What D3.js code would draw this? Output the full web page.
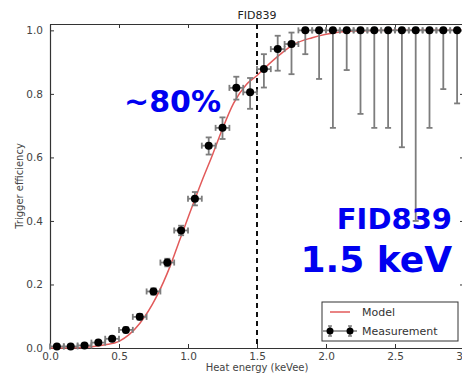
<!DOCTYPE html>
<html>
<head>
<meta charset="utf-8">
<script src="https://cdn.jsdelivr.net/npm/d3@7"></script>
<style>
  body { margin: 0; background: #fff; }
  svg { display: block; font-family: "DejaVu Sans", sans-serif; }
</style>
</head>
<body>
<svg id="chart" width="462" height="374"></svg>
<script>
// bin centres (keVee) and measured trigger efficiency
var energy = [0.05, 0.15, 0.25, 0.35, 0.45, 0.55, 0.65, 0.75, 0.85, 0.95,
              1.05, 1.15, 1.25, 1.35, 1.45, 1.55, 1.65, 1.75, 1.85, 1.95,
              2.05, 2.15, 2.25, 2.35, 2.45, 2.55, 2.65, 2.75, 2.85, 2.95];
var eff    = [0.005, 0.005, 0.008, 0.017, 0.029, 0.057, 0.098, 0.178, 0.269, 0.370,
              0.470, 0.637, 0.693, 0.819, 0.805, 0.878, 0.941, 0.957, 1.0, 1.0,
              1.0, 1.0, 1.0, 1.0, 1.0, 1.0, 1.0, 1.0, 1.0, 1.0];
var errLow = [0.003, 0.003, 0.004, 0.005, 0.006, 0.008, 0.009, 0.010, 0.012, 0.015,
              0.021, 0.028, 0.035, 0.037, 0.052, 0.058, 0.068, 0.095, 0.075, 0.153,
              0.307, 0.125, 0.263, 0.307, 0.307, 0.368, 0.600, 0.307, 0.185, 0.230];
var errHigh = [0.003, 0.003, 0.004, 0.005, 0.006, 0.008, 0.009, 0.010, 0.012, 0.015,
               0.021, 0.026, 0.033, 0.035, 0.045, 0.047, 0.042, 0.036, 0, 0,
               0, 0, 0, 0, 0, 0, 0, 0, 0, 0];
var binHalf = 0.05;

// model curve
var modelE   = [0.0, 0.2, 0.3, 0.4, 0.5, 0.65, 0.77, 0.87, 0.94, 1.0, 1.1, 1.18,
                1.25, 1.33, 1.42, 1.5, 1.56, 1.67, 1.76, 1.9, 2.0, 2.2, 2.5, 3.0];
var modelEff = [0.0, 0.001, 0.004, 0.01, 0.021, 0.077, 0.16, 0.257, 0.34, 0.41, 0.525, 0.611,
                0.69, 0.77, 0.828, 0.858, 0.883, 0.925, 0.954, 0.977, 0.988, 0.998, 1.0, 1.0];

var xTicks = [0, 0.5, 1.0, 1.5, 2.0, 2.5, 3.0];
var yTicks = [0, 0.2, 0.4, 0.6, 0.8, 1.0];
var threshold = 1.5;

var svg = d3.select("#chart");

// plot area edges (the right spine sits just past the window edge, as in the original)
var pLeft = 50, pRight = 464, pTop = 24, pBottom = 348;

var x = d3.scaleLinear().domain([0, 3]).range([pLeft, pRight]);
var y = d3.scaleLinear().domain([0, 1.02]).range([pBottom, pTop]);

var axisColor = "#333";
var tickFont  = "10.5px";

// axes - matplotlib style: ticks pointing in on all four sides
var xAxisB = d3.axisBottom(x).tickValues(xTicks).tickFormat(d3.format(".1f")).tickSizeInner(-4).tickSizeOuter(0).tickPadding(5);
var xAxisT = d3.axisTop(x).tickValues(xTicks).tickFormat("").tickSizeInner(-4).tickSizeOuter(0);
var yAxisL = d3.axisLeft(y).tickValues(yTicks).tickFormat(d3.format(".1f")).tickSizeInner(-4).tickSizeOuter(0).tickPadding(7);
var yAxisR = d3.axisRight(y).tickValues(yTicks).tickFormat("").tickSizeInner(-4).tickSizeOuter(0);

function styleAxis(g) {
  g.selectAll("path").attr("stroke", axisColor).attr("stroke-width", 1.2);
  g.selectAll("line").attr("stroke", axisColor).attr("stroke-width", 1);
  g.selectAll("text").attr("fill", "#444").style("font-size", tickFont).style("font-family", "DejaVu Sans, sans-serif");
}

svg.append("g").attr("transform", "translate(0," + pBottom + ")").call(xAxisB).call(styleAxis);
svg.append("g").attr("transform", "translate(0," + pTop + ")").call(xAxisT).call(styleAxis);
svg.append("g").attr("transform", "translate(" + pLeft + ",0)").call(yAxisL).call(styleAxis);
svg.append("g").attr("transform", "translate(" + pRight + ",0)").call(yAxisR).call(styleAxis);

// labels
svg.append("text")
   .attr("x", (pLeft + pRight) / 2).attr("y", 19)
   .attr("text-anchor", "middle")
   .attr("fill", "#222")
   .style("font-size", "11px")
   .text("FID839");

svg.append("text")
   .attr("x", (pLeft + pRight) / 2).attr("y", 371)
   .attr("text-anchor", "middle")
   .attr("fill", "#444")
   .style("font-size", "10px")
   .text("Heat energy (keVee)");

svg.append("text")
   .attr("transform", "translate(23," + ((pTop + pBottom) / 2) + ") rotate(-90)")
   .attr("text-anchor", "middle")
   .attr("fill", "#444")
   .style("font-size", "10px")
   .text("Trigger efficiency");

// model
var modelLine = d3.line()
  .x(function (d, i) { return x(modelE[i]); })
  .y(function (d) { return y(d); })
  .curve(d3.curveMonotoneX);

svg.append("path")
   .attr("d", modelLine(modelEff))
   .attr("fill", "none")
   .attr("stroke", "#e25a5a")
   .attr("stroke-width", 1.5);

// threshold line
svg.append("line")
   .attr("x1", x(threshold)).attr("x2", x(threshold))
   .attr("y1", pTop).attr("y2", pBottom)
   .attr("stroke", "#111")
   .attr("stroke-width", 2)
   .attr("stroke-dasharray", "5,4");

// error bars
var errColor = "#7d7d7d";
var cap = 3;
var bars = svg.append("g").attr("stroke", errColor).attr("stroke-width", 1.8);

energy.forEach(function (e, i) {
  var cx = x(e), cy = y(eff[i]);
  var yLo = y(eff[i] - errLow[i]), yHi = y(eff[i] + errHigh[i]);
  var xLo = x(e - binHalf), xHi = x(e + binHalf);

  bars.append("line").attr("x1", cx).attr("x2", cx).attr("y1", yLo).attr("y2", yHi);
  bars.append("line").attr("x1", cx - cap).attr("x2", cx + cap).attr("y1", yLo).attr("y2", yLo);
  bars.append("line").attr("x1", cx - cap).attr("x2", cx + cap).attr("y1", yHi).attr("y2", yHi);

  bars.append("line").attr("x1", xLo).attr("x2", xHi).attr("y1", cy).attr("y2", cy);
  bars.append("line").attr("x1", xLo).attr("x2", xLo).attr("y1", cy - cap).attr("y2", cy + cap);
  bars.append("line").attr("x1", xHi).attr("x2", xHi).attr("y1", cy - cap).attr("y2", cy + cap);
});

svg.append("g").selectAll("circle")
   .data(eff)
   .enter().append("circle")
   .attr("cx", function (d, i) { return x(energy[i]); })
   .attr("cy", function (d) { return y(d); })
   .attr("r", 4)
   .attr("fill", "#000");

// annotations
svg.append("text")
   .attr("x", 124).attr("y", 112)
   .attr("fill", "#0000f0")
   .style("font-size", "30px").style("font-weight", "bold")
   .text("~80%");

svg.append("text")
   .attr("x", 452).attr("y", 229)
   .attr("text-anchor", "end")
   .attr("fill", "#0000f0")
   .style("font-size", "29px").style("font-weight", "bold")
   .text("FID839");

svg.append("text")
   .attr("x", 452).attr("y", 272)
   .attr("text-anchor", "end")
   .attr("fill", "#0000f0")
   .style("font-size", "36px").style("font-weight", "bold")
   .text("1.5 keV");

// legend
var legend = svg.append("g").attr("transform", "translate(322,302)");

legend.append("rect")
   .attr("width", 136).attr("height", 39)
   .attr("fill", "#fff")
   .attr("stroke", "#333").attr("stroke-width", 1);

legend.append("line")
   .attr("x1", 8).attr("x2", 28).attr("y1", 10).attr("y2", 10)
   .attr("stroke", "#e25a5a").attr("stroke-width", 1.5);

legend.append("text")
   .attr("x", 40).attr("y", 14)
   .attr("fill", "#333")
   .style("font-size", "11px")
   .text("Model");

var lg = legend.append("g").attr("stroke", errColor).attr("stroke-width", 1.5);
lg.append("line").attr("x1", 1).attr("x2", 35).attr("y1", 29).attr("y2", 29);
[8, 28].forEach(function (px) {
  lg.append("line").attr("x1", px).attr("x2", px).attr("y1", 24).attr("y2", 34);
  lg.append("line").attr("x1", px - 2).attr("x2", px + 2).attr("y1", 24).attr("y2", 24);
  lg.append("line").attr("x1", px - 2).attr("x2", px + 2).attr("y1", 34).attr("y2", 34);
  legend.append("circle").attr("cx", px).attr("cy", 29).attr("r", 3.5).attr("fill", "#000");
});

legend.append("text")
   .attr("x", 40).attr("y", 33)
   .attr("fill", "#333")
   .style("font-size", "11px")
   .text("Measurement");
</script>
</body>
</html>
